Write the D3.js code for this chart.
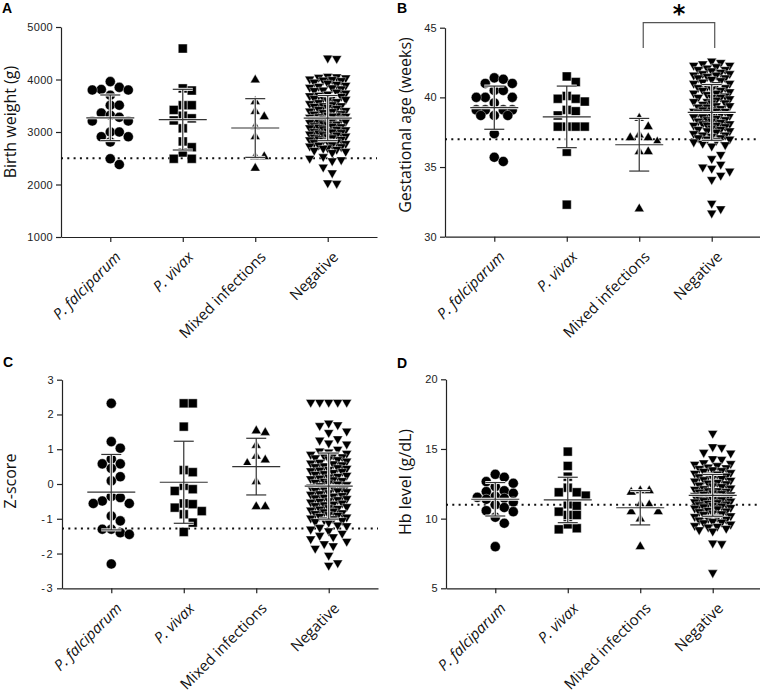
<!DOCTYPE html>
<html>
<head>
<meta charset="utf-8">
<script src="https://cdn.jsdelivr.net/npm/d3@7"></script>
<style>
  body { margin: 0; background: #fff; }
  svg { display: block; font-family: "DejaVu Sans", sans-serif; }
  .tick text { font-size: 11px; fill: #222; }
  .domain, .tick line { stroke: #222; stroke-width: 1.2; }
  .ytitle { font-family: "Open Sans", Lato, sans-serif; font-size: 16px; fill: #111; }
  .xlab { font-family: "Open Sans", Lato, sans-serif; font-size: 15px; fill: #111; }
  .letter { font-family: "Liberation Sans", Arial, sans-serif; font-weight: bold; font-size: 14px; }
</style>
</head>
<body>
<svg id="chart" width="760" height="692"></svg>
<script>

var groups = ["P. falciparum", "P. vivax", "Mixed infections", "Negative"];

//birth weight (g)
var bwPf = [3960, 3850, 3810, 3800, 3800, 3700, 3510, 3510, 3360, 3320, 3280, 3210, 3210, 3000, 3000, 2910, 2910, 2810, 2490, 2380];
var bwPv = [4590, 3830, 3790, 3510, 3510, 3420, 3310, 3260, 3220, 3070, 2820, 2710, 2610, 2490, 2490];
var bwMix = [3990, 3580, 3390, 3290, 3100, 2910, 2530, 2530, 2310];
var bwNeg = [4410, 4400,
  4060, 4050, 4040, 4030, 4010, 4000, 3990, 3980,
  3950, 3930, 3910, 3890, 3870, 3850, 3840, 3820, 3800, 3790,
  3760, 3740, 3720, 3700, 3690, 3680, 3660, 3650, 3640, 3620, 3600,
  3580, 3560, 3540, 3520, 3500, 3500, 3490, 3470, 3450, 3430, 3410, 3400,
  3390, 3370, 3350, 3340, 3320, 3310, 3300, 3300, 3290, 3280, 3260, 3250, 3240, 3230, 3210, 3200,
  3190, 3180, 3160, 3150, 3140, 3120, 3110, 3100, 3090, 3080, 3060, 3050, 3040, 3020, 3010, 3000,
  2990, 2980, 2960, 2950, 2940, 2920, 2910, 2900, 2890, 2870, 2860, 2850, 2840, 2820, 2810, 2800,
  2780, 2760, 2750, 2730, 2720, 2700, 2690, 2670, 2650, 2630, 2610,
  2530, 2500, 2470, 2450, 2330, 2220, 2030, 2020];
var bwMean = [3270, 3235, 3076, 3265];
var bwSd = [435, 578, 559, 430];

//gestational age (weeks)
var gaPf = [41.4, 41.3, 41.0, 41.0, 40.5, 40.5, 40.0, 40.0, 40.0, 39.6, 39.1, 39.1, 39.1, 39.1, 38.7, 38.7, 38.7, 37.4, 35.7, 35.4];
var gaPv = [41.5, 41.1, 40.1, 39.9, 39.9, 39.7, 39.1, 39.0, 38.7, 37.9, 37.9, 37.9, 37.9, 36.1, 32.3];
var gaMix = [38.5, 37.9, 37.3, 37.1, 37.1, 36.8, 36.1, 36.1, 32.0];
var gaNeg = [42.6, 42.5, 42.4, 42.3, 42.3, 42.2, 42.1, 42.0, 42.0,
  41.9, 41.8, 41.7, 41.7, 41.6, 41.6, 41.5, 41.4, 41.4, 41.3, 41.2, 41.1, 41.0, 41.0,
  40.9, 40.8, 40.7, 40.7, 40.6, 40.5, 40.5, 40.4, 40.3, 40.3, 40.2, 40.1, 40.0, 40.0, 40.0,
  39.9, 39.8, 39.7, 39.7, 39.6, 39.6, 39.5, 39.4, 39.4, 39.3, 39.3, 39.2, 39.1, 39.1, 39.0, 39.0, 39.0,
  38.9, 38.9, 38.8, 38.7, 38.7, 38.6, 38.6, 38.5, 38.4, 38.4, 38.3, 38.3, 38.2, 38.1, 38.1, 38.0, 38.0, 38.0,
  37.9, 37.8, 37.7, 37.7, 37.6, 37.6, 37.5, 37.4, 37.3, 37.3, 37.2, 37.1, 37.1, 37.0, 37.0,
  36.9, 36.8, 36.7, 36.6, 36.5,
  35.9, 35.6, 35.2, 35.0, 34.9, 34.7, 34.4, 34.1, 32.4, 32.0, 31.7];
var gaMean = [39.26, 38.6, 36.6, 38.92];
var gaSd = [1.55, 2.21, 1.89, 2.0];

//z-score
var zPf = [2.32, 1.22, 1.03, 0.72, 0.58, 0.58, 0.45, 0.21, 0.09, -0.36, -0.39, -0.49, -0.56, -0.56, -0.92, -1.06, -1.30, -1.30, -1.40, -1.45, -2.30];
var zPv = [2.32, 2.32, 1.65, 0.40, 0.34, -0.05, -0.15, -0.20, -0.56, -0.58, -0.68, -0.78, -0.87, -1.11, -1.38];
var zMix = [1.53, 1.48, 1.11, 0.80, 0.69, 0.59, 0.07, -0.65, -0.65];
var zNeg = [2.35, 2.35, 2.35, 2.35, 2.35,
  1.75, 1.70, 1.68, 1.52, 1.48, 1.30, 1.26, 1.18, 1.15,
  1.00, 0.95, 0.92, 0.88, 0.85, 0.83, 0.80, 0.78, 0.75, 0.72, 0.70, 0.66, 0.62, 0.60, 0.58, 0.55, 0.52, 0.50,
  0.47, 0.45, 0.42, 0.40, 0.38, 0.36, 0.33, 0.30, 0.28, 0.25, 0.22, 0.20, 0.17, 0.15, 0.12, 0.10, 0.08, 0.05, 0.03, 0.00,
  -0.02, -0.05, -0.08, -0.10, -0.12, -0.15, -0.18, -0.20, -0.22, -0.25, -0.28, -0.30, -0.33, -0.35, -0.38, -0.40,
  -0.42, -0.45, -0.48, -0.50, -0.52, -0.55, -0.58, -0.60, -0.62, -0.65, -0.68, -0.70, -0.72, -0.75, -0.78, -0.80,
  -0.83, -0.85, -0.88, -0.90, -0.93, -0.95, -0.98, -1.00, -1.03, -1.05, -1.08, -1.10,
  -1.18, -1.20, -1.25, -1.30, -1.35, -1.42, -1.48, -1.52, -1.58, -1.65, -1.72, -1.78, -1.85, -2.05, -2.27, -2.34];
var zMean = [-0.235, 0.05, 0.5, -0.06];
var zSd = [1.085, 1.18, 0.815, 0.95];

//haemoglobin (g/dL)
var hbPf = [13.18, 12.97, 12.66, 12.54, 12.3, 12.0, 11.94, 11.82, 11.6, 11.53, 11.46, 11.39, 11.2, 11.0, 10.8, 10.57, 10.5, 10.1, 9.67, 7.99];
var hbPv = [14.81, 13.78, 13.01, 12.22, 11.89, 11.89, 11.65, 11.03, 10.93, 10.5, 10.26, 10.26, 9.59, 9.31, 9.23];
var hbMix = [12.0, 12.0, 11.9, 11.03, 10.98, 10.5, 10.5, 9.98, 7.99];
var hbNeg = [16.12, 15.16, 15.1, 14.75, 14.7, 14.3, 14.25, 14.0, 13.95, 13.9,
  13.8, 13.7, 13.65, 13.6, 13.5, 13.45, 13.4, 13.3, 13.25, 13.2, 13.1, 13.05, 13.0, 12.95, 12.9, 12.8, 12.75, 12.7,
  12.6, 12.55, 12.5, 12.4, 12.35, 12.3, 12.2, 12.15, 12.1, 12.0, 12.0, 11.95, 11.9, 11.85, 11.8, 11.75, 11.7, 11.65,
  11.6, 11.55, 11.5, 11.45, 11.4, 11.35, 11.3, 11.25, 11.2, 11.15, 11.1, 11.05, 11.0, 10.95, 10.9, 10.85, 10.8, 10.75,
  10.7, 10.6, 10.55, 10.5, 10.4, 10.35, 10.3, 10.2, 10.15, 10.1, 10.0, 9.95, 9.9, 9.8, 9.75, 9.7, 9.6, 9.5, 9.45,
  9.4, 9.3, 9.2, 9.1, 8.25, 8.2, 6.12];
var hbMean = [11.39, 11.34, 10.78, 11.67];
var hbSd = [1.2, 1.63, 1.23, 1.5];

var panels = [
  {letter: "A", lx: 2, ly: 13, xr: [61, 377], yr: [237, 27], dom: [1000, 5000], ticks: [1000, 2000, 3000, 4000, 5000],
   title: "Birth weight (g)", tx: 15.5, ty: 122, ref: 2500,
   data: [bwPf, bwPv, bwMix, bwNeg], mean: bwMean, sd: bwSd},
  {letter: "B", lx: 397, ly: 13, xr: [445, 761], yr: [236.7, 27.7], dom: [30, 45], ticks: [30, 35, 40, 45],
   title: "Gestational age (weeks)", tx: 411, ty: 125, ref: 37,
   data: [gaPf, gaPv, gaMix, gaNeg], mean: gaMean, sd: gaSd},
  {letter: "C", lx: 3, ly: 367, xr: [62, 378], yr: [588.3, 379.7], dom: [-3, 3], ticks: [-3, -2, -1, 0, 1, 2, 3],
   title: "Z-score", tx: 15.5, ty: 481, ref: -1.28,
   data: [zPf, zPv, zMix, zNeg], mean: zMean, sd: zSd},
  {letter: "D", lx: 397, ly: 368, xr: [446, 762], yr: [588.3, 379.3], dom: [5, 20], ticks: [5, 10, 15, 20],
   title: "Hb level (g/dL)", tx: 411, ty: 482, ref: 11,
   data: [hbPf, hbPv, hbMix, hbNeg], mean: hbMean, sd: hbSd}
];

//marker shapes for each group
var shapes = [
  d3.symbol().type(d3.symbolCircle).size(80)(),
  d3.symbol().type(d3.symbolSquare).size(80)(),
  d3.symbol().type(d3.symbolTriangle).size(42)(),
  d3.symbol().type(d3.symbolTriangle).size(42)()
];

var svg = d3.select("#chart");

//simple swarm: each point takes the closest free slot, or the least crowded one
function swarm(vals, y, step, hgt, maxOff) {
  var cands = [0];
  for (var k = 1; k * step / 2 <= maxOff + 0.01; k++) {
    cands.push(k * step / 2, -k * step / 2);
  }
  var pts = vals.map(function(v) { return {v: v, y: y(v)}; })
                .sort(function(a, b) { return a.y - b.y; });
  var placed = [];
  pts.forEach(function(p) {
    var best = 0, bestScore = -1;
    for (var i = 0; i < cands.length; i++) {
      var c = cands[i];
      var hits = placed.filter(function(q) {
        return Math.abs(q.dx - c) < step * 0.95 && Math.abs(q.y - p.y) < hgt;
      });
      if (hits.length === 0) { best = c; break; }
      var score = d3.min(hits, function(q) {
        return Math.hypot((q.dx - c) / step, (q.y - p.y) / hgt);
      });
      if (score > bestScore + 0.05) { bestScore = score; best = c; }
    }
    p.dx = best;
    placed.push(p);
  });
  return pts;
}

panels.forEach(function(P) {
  var x = d3.scalePoint().domain(groups).range(P.xr).padding(0.68);
  var y = d3.scaleLinear().domain(P.dom).range(P.yr);
  var g = svg.append("g");

  //y axis
  g.append("g")
    .attr("transform", "translate(" + P.xr[0] + ",0)")
    .call(d3.axisLeft(y).tickValues(P.ticks).tickSize(5).tickPadding(3).tickSizeOuter(0)
      .tickFormat(function(d) { return String(d); }))
    .selectAll(".tick text")
    .style("letter-spacing", function(d) { return d < 0 ? "1.5px" : "0.3px"; });

  //x axis, labels added by hand below
  g.append("g")
    .attr("transform", "translate(0," + P.yr[0] + ")")
    .call(d3.axisBottom(x).tickSize(5).tickSizeOuter(0).tickFormat(""));

  groups.forEach(function(name, i) {
    g.append("text")
      .attr("class", "xlab")
      .attr("transform", "translate(" + (x(name) + 11.5) + "," + (P.yr[0] + 21) + ") rotate(-45)")
      .style("text-anchor", "end")
      .style("font-style", i < 2 ? "italic" : "normal")
      .text(name);
  });

  //axis title and panel letter
  g.append("text")
    .attr("class", "ytitle")
    .attr("transform", "translate(" + P.tx + "," + P.ty + ") rotate(-90)")
    .style("text-anchor", "middle")
    .text(P.title);

  g.append("text")
    .attr("class", "letter")
    .attr("x", P.lx)
    .attr("y", P.ly)
    .text(P.letter);

  //dotted reference line
  g.append("line")
    .attr("x1", P.xr[0]).attr("x2", P.xr[1])
    .attr("y1", y(P.ref)).attr("y2", y(P.ref))
    .attr("stroke", "#111")
    .attr("stroke-width", 2)
    .attr("stroke-dasharray", "2,4.3");

  //points
  P.data.forEach(function(vals, i) {
    var pts = swarm(vals, y, 9, 9, 18);
    g.selectAll(".p" + i)
      .data(pts)
      .enter()
      .append("path")
      .attr("d", shapes[i])
      .attr("transform", function(d) {
        return "translate(" + (x(groups[i]) + d.dx) + "," + d.y + ")" + (i === 3 ? " rotate(180)" : "");
      })
      .attr("fill", "#000")
      .attr("stroke", "#fff")
      .attr("stroke-width", 0.4);
  });

  //mean and SD bars
  groups.forEach(function(name, i) {
    var cx = x(name);
    var m = P.mean[i], s = P.sd[i];
    var segs = [
      [cx, y(m + s), cx, y(m - s)],
      [cx - 10, y(m + s), cx + 10, y(m + s)],
      [cx - 10, y(m - s), cx + 10, y(m - s)],
      [cx - 24, y(m), cx + 24, y(m)]
    ];
    [["#fff", 3], ["#333", 1.2]].forEach(function(st) {
      g.selectAll(null)
        .data(segs)
        .enter()
        .append("line")
        .attr("x1", function(d) { return d[0]; })
        .attr("y1", function(d) { return d[1]; })
        .attr("x2", function(d) { return d[2]; })
        .attr("y2", function(d) { return d[3]; })
        .attr("stroke", st[0])
        .attr("stroke-width", st[1]);
    });
  });

  //significance bracket between mixed and negative
  if (P.letter === "B") {
    var x1 = x(groups[2]) + 4, x2 = x(groups[3]) + 3;
    g.append("path")
      .attr("d", "M" + x1 + ",48V22.7H" + x2 + "V48")
      .attr("fill", "none")
      .attr("stroke", "#555")
      .attr("stroke-width", 1.2);
    g.append("text")
      .attr("x", (x1 + x2) / 2)
      .attr("y", 22)
      .style("text-anchor", "middle")
      .style("font-family", "'DejaVu Sans', sans-serif")
      .style("font-weight", "bold")
      .style("font-size", "24px")
      .text("*");
  }
});

</script>
</body>
</html>
